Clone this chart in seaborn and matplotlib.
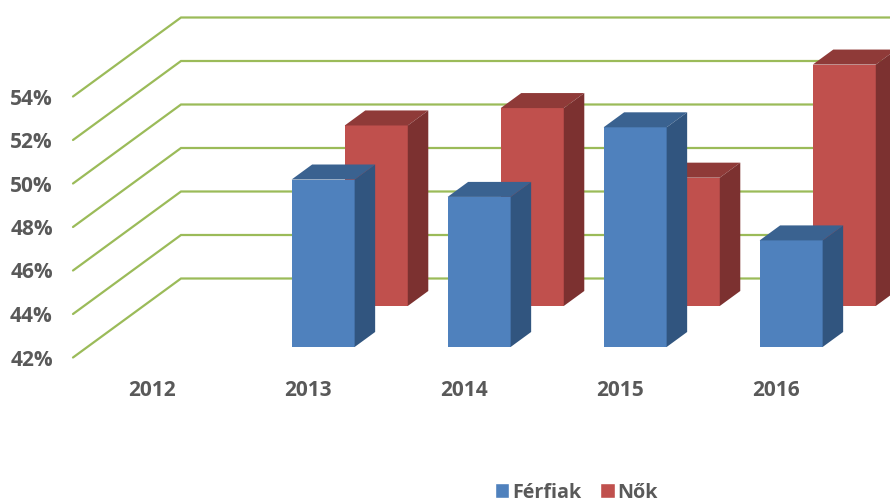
import matplotlib
matplotlib.use("Agg")
import matplotlib.pyplot as plt
from matplotlib.patches import Patch, Polygon
import numpy as np
import pandas as pd
import seaborn as sns

# values, 2012 has no bars
years = ["2012", "2013", "2014", "2015", "2016"]
ferfiak = [np.nan, 49.7, 48.9, 52.1, 46.9]
nok = [np.nan, 50.3, 51.1, 47.9, 53.1]
y_ticks = [42, 44, 46, 48, 50, 52, 54]

# pixel scale of the picture
px_per_cat = 156.0
px_per_pct = 21.75

# full depth of the fake 3d floor, in data units
depth_x = 108 / px_per_cat
depth_y = 79 / px_per_pct
bar_depth = 0.19  # how deep a bar is, as part of the floor

blue = ["#4F81BD", "#3A6290", "#31557F"]  # front, top, side
red = ["#C0504D", "#8F3A38", "#7C3130"]
grid_col = "#9BBB59"
text_col = "#595959"

sns.set_theme(style="white")
plt.rcParams["font.family"] = ["Open Sans", "DejaVu Sans"]

fig = plt.figure(figsize=(8.9, 5.04), dpi=100)
ax = fig.add_axes([0, 0, 1, 1])


def draw_series(values, colors, plane_x, plane_y):
    # front faces come from seaborn, then get moved back to their plane
    df = pd.DataFrame({"year": years, "value": values})
    old = len(ax.patches)
    sns.barplot(data=df, x="year", y="value", order=years, color=colors[0],
                width=0.404, saturation=1, errorbar=None, ax=ax, zorder=3)
    bars = [p for p in ax.patches[old:] if p.get_height() > 0]

    dx = plane_x * depth_x
    dy = plane_y * depth_y
    ox = bar_depth * depth_x
    oy = bar_depth * depth_y
    for p in bars:
        top = p.get_height()
        p.set_x(p.get_x() + dx)
        p.set_y(y_ticks[0] + dy)
        p.set_height(top - y_ticks[0])
        p.set_linewidth(0)

        x0 = p.get_x()
        x1 = x0 + p.get_width()
        y0 = p.get_y()
        y1 = y0 + p.get_height()
        ax.add_patch(Polygon([(x0, y1), (x1, y1), (x1 + ox, y1 + oy), (x0 + ox, y1 + oy)],
                             facecolor=colors[1], linewidth=0, zorder=3))
        ax.add_patch(Polygon([(x1, y0), (x1 + ox, y0 + oy), (x1 + ox, y1 + oy), (x1, y1)],
                             facecolor=colors[2], linewidth=0, zorder=3))


# red stands further back than blue
draw_series(nok, red, 0.632, 0.652)
draw_series(ferfiak, blue, 0.14, 0.133)

# the axes fills the whole figure so limits follow the picture pixels
ax.set_xlim(-152 / px_per_cat, (890 - 152) / px_per_cat)
ax.set_ylim(42 - 146.5 / px_per_pct, 42 + 357.5 / px_per_pct)

# floor and wall lines
left = ax.get_xlim()[0] + 73 / px_per_cat
right = ax.get_xlim()[1]
for t in y_ticks:
    ax.plot([left, left + depth_x, right], [t, t + depth_y, t + depth_y],
            color=grid_col, lw=1.6, zorder=1, solid_joinstyle="miter", clip_on=True)

for s in ax.spines.values():
    s.set_visible(False)
ax.set_xlabel("")
ax.set_ylabel("")
ax.set_yticks(y_ticks)
ax.set_yticklabels(["%d%%" % t for t in y_ticks])
ax.set_xticks(range(len(years)))
ax.set_xticklabels(years)
ax.tick_params(axis="y", length=0, pad=-38, labelsize=15, labelcolor=text_col)
ax.tick_params(axis="x", length=0, pad=-89, labelsize=15, labelcolor=text_col)
for lab in ax.get_xticklabels() + ax.get_yticklabels():
    lab.set_fontweight("bold")

handles = [Patch(facecolor=blue[0], label="Férfiak"), Patch(facecolor=red[0], label="Nők")]
leg = ax.legend(handles=handles, ncol=2, frameon=False, loc="center",
                bbox_to_anchor=(576 / 890, 1 - 492.5 / 504), handlelength=0.75, handleheight=0.75,
                handletextpad=0.12, columnspacing=0.95, borderpad=0,
                prop={"size": 14.2, "weight": "bold"})
for t in leg.get_texts():
    t.set_color(text_col)

fig.savefig("out.png", dpi=100)
